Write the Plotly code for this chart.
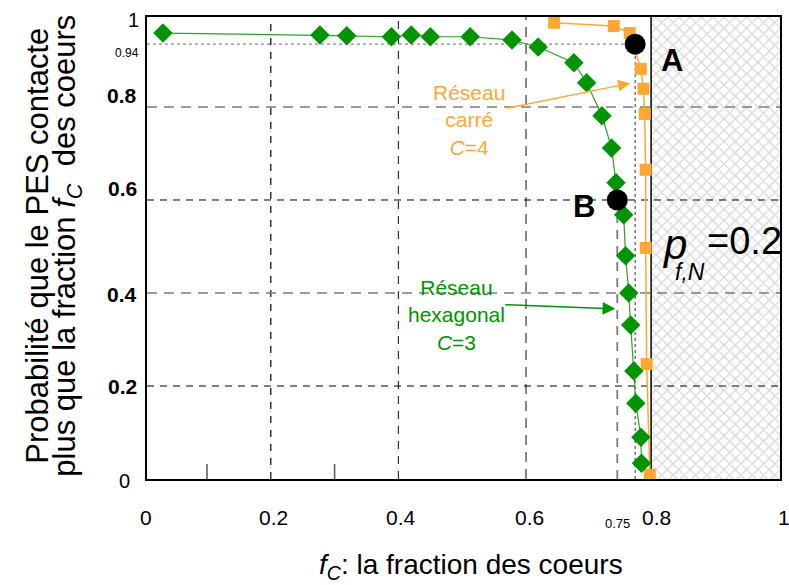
import plotly.graph_objects as go

# ---------------- data ----------------
square_x = [0.644, 0.7375, 0.7625, 0.780, 0.784, 0.786, 0.7875, 0.7875, 0.789, 0.794]
square_y = [0.981, 0.974, 0.959, 0.882, 0.839, 0.785, 0.665, 0.497, 0.247, 0.009]

hex_x = [0.031, 0.277, 0.319, 0.389, 0.420, 0.450, 0.5125, 0.578, 0.619, 0.675, 0.695,
         0.719, 0.734, 0.741, 0.753, 0.756, 0.761, 0.764, 0.769, 0.772, 0.780, 0.781]
hex_y = [0.959, 0.955, 0.953, 0.951, 0.955, 0.951, 0.951, 0.944, 0.929, 0.895, 0.852,
         0.781, 0.712, 0.637, 0.568, 0.480, 0.400, 0.331, 0.232, 0.163, 0.090, 0.034]

point_names = ["A", "B"]
point_x = [0.771, 0.743]
point_y = [0.935, 0.600]

x_tick_vals = [0, 0.2, 0.4, 0.6, 0.8, 1.0]
x_tick_text = ["0", "0.2", "0.4", "0.6", "0.8", "1"]
y_tick_vals = [1.0, 0.935, 0.8, 0.6, 0.4, 0.2, 0.0]
y_tick_text = ["1", "0.94", "0.8", "0.6", "0.4", "0.2", "0"]
x_marker_text = "0.75"

grid_x = [0.2, 0.4, 0.6]
grid_y = [0.8, 0.6, 0.4, 0.2]
minor_x = [0.1, 0.3]
hatch_start = 0.796
hatch_end = 1.0
pfn_text = "=0.2"

X_RANGE = [0.006, 0.998]
Y_RANGE = [0.0, 0.9935]

GREEN = "#009400"
GREEN_LINE = "#2aa52a"
ORANGE = "#FFA733"
GRAY = "#7a7a7a"


def px_x(v):
    return (v - X_RANGE[0]) / (X_RANGE[1] - X_RANGE[0])


def px_y(v):
    return (v - Y_RANGE[0]) / (Y_RANGE[1] - Y_RANGE[0])


fig = go.Figure()

# hatched region (p_f,N = 0.2)
fig.add_trace(go.Scatter(
    x=[hatch_start, hatch_end, hatch_end, hatch_start, hatch_start],
    y=[Y_RANGE[0], Y_RANGE[0], Y_RANGE[1], Y_RANGE[1], Y_RANGE[0]],
    fill="toself", mode="none", fillcolor="white",
    fillpattern=dict(shape="x", fgcolor="#b0b0b0", bgcolor="white", size=8, solidity=0.3),
    hoverinfo="skip", showlegend=False))

# grid lines (dashed)
v_styles = [("black", "7px,7px", 1.2), ("#333333", "8px,7px", 1.2), (GRAY, "10px,7px", 1.8)]
for gx, (c, d, w) in zip(grid_x, v_styles):
    fig.add_trace(go.Scatter(x=[gx, gx], y=Y_RANGE, mode="lines",
                             line=dict(color=c, dash=d, width=w), hoverinfo="skip", showlegend=False))
h_styles = [(GRAY, "10px,7px", 1.6), ("black", "7px,6px", 1.0), (GRAY, "10px,7px", 1.6), ("black", "7px,6px", 1.0)]
for gy, (c, d, w) in zip(grid_y, h_styles):
    fig.add_trace(go.Scatter(x=X_RANGE, y=[gy, gy], mode="lines",
                             line=dict(color=c, dash=d, width=w), hoverinfo="skip", showlegend=False))

# minor ticks at bottom
for mx in minor_x:
    fig.add_trace(go.Scatter(x=[mx, mx], y=[0, 0.032], mode="lines",
                             line=dict(color="#555555", width=1.5), hoverinfo="skip", showlegend=False))

# reference lines for A and B
fig.add_trace(go.Scatter(x=[X_RANGE[0], point_x[0]], y=[point_y[0], point_y[0]], mode="lines",
                         line=dict(color="#888888", dash="dot", width=1.2), hoverinfo="skip", showlegend=False))
fig.add_trace(go.Scatter(x=[point_x[0], point_x[0]], y=[0, point_y[0]], mode="lines",
                         line=dict(color="#333333", dash="dot", width=1), hoverinfo="skip", showlegend=False))
fig.add_trace(go.Scatter(x=[point_x[1], point_x[1]], y=[0, point_y[1]], mode="lines",
                         line=dict(color=GRAY, dash="9px,7px", width=1.8), hoverinfo="skip", showlegend=False))

# hatch boundary line
fig.add_trace(go.Scatter(x=[hatch_start, hatch_start], y=Y_RANGE, mode="lines",
                         line=dict(color="black", width=1.5), hoverinfo="skip", showlegend=False))

# series
fig.add_trace(go.Scatter(x=square_x, y=square_y, mode="lines+markers",
                         line=dict(color=ORANGE, width=1.5),
                         marker=dict(symbol="square", size=12, color=ORANGE),
                         showlegend=False))
fig.add_trace(go.Scatter(x=hex_x, y=hex_y, mode="lines+markers",
                         line=dict(color=GREEN_LINE, width=1.2),
                         marker=dict(symbol="diamond", size=15, color=GREEN),
                         showlegend=False))
fig.add_trace(go.Scatter(x=point_x, y=point_y, mode="markers",
                         marker=dict(symbol="circle", size=21, color="black"),
                         showlegend=False))

ann = []
# A / B labels
ann.append(dict(x=0.828, y=0.901, text="<b>A</b>", showarrow=False,
                font=dict(size=31, color="black")))
ann.append(dict(x=0.691, y=0.585, text="<b>B</b>", showarrow=False,
                font=dict(size=31, color="black")))

# p_f,N label
ann.append(dict(x=0.833, y=0.505, text="<i>p</i>", showarrow=False,
                font=dict(size=42, color="black")))
ann.append(dict(x=0.857, y=0.445, text="<i>f,N</i>", showarrow=False,
                font=dict(size=23, color="black")))
ann.append(dict(x=1.0, xref="paper", y=px_y(0.512), yref="paper", xanchor="right", yanchor="middle",
                xshift=4, text=pfn_text, showarrow=False,
                font=dict(size=38, color="black")))

# series labels + arrows
ann.append(dict(x=0.511, y=0.772, text="Réseau<br>carré<br><i>C</i>=4", showarrow=False,
                font=dict(size=21, color=ORANGE)))
ann.append(dict(x=0.763, y=0.851, ax=0.568, ay=0.797, axref="x", ayref="y",
                text="", showarrow=True, arrowhead=2, arrowsize=1.6, arrowwidth=1.5,
                arrowcolor=ORANGE))
ann.append(dict(x=0.491, y=0.353, text="Réseau<br>hexagonal<br><i>C</i>=3", showarrow=False,
                font=dict(size=21, color=GREEN)))
ann.append(dict(x=0.740, y=0.366, ax=0.565, ay=0.375, axref="x", ayref="y",
                text="", showarrow=True, arrowhead=2, arrowsize=1.7, arrowwidth=1.5,
                arrowcolor=GREEN))

# y tick labels (annotations)
y_label_shift = [-14, -20, -25, -25, -25, -25, -23]
y_label_vshift = [-6, -9, 11, 11, -2, -1, -2]
y_label_size = [20, 12, 21, 21, 21, 21, 20]
y_label_bold = [False, False, True, True, True, True, False]
for v, t, xs, ys, sz, b in zip(y_tick_vals, y_tick_text, y_label_shift, y_label_vshift,
                               y_label_size, y_label_bold):
    ann.append(dict(x=0, xref="paper", y=px_y(v), yref="paper", xanchor="center", yanchor="middle",
                    xshift=xs, yshift=ys, text=f"<b>{t}</b>" if b else t, showarrow=False,
                    font=dict(size=sz, color="black")))

# x tick labels (annotations)
for v, t in zip(x_tick_vals, x_tick_text):
    ann.append(dict(x=px_x(v), xref="paper", y=0, yref="paper", xanchor="center", yanchor="middle",
                    xshift=3, yshift=-38, text=t, showarrow=False,
                    font=dict(size=21, color="black")))

# 0.75 small label
ann.append(dict(x=px_x(point_x[1]), xref="paper", y=0, yref="paper", yanchor="middle",
                xshift=15, yshift=-44, text=x_marker_text, showarrow=False,
                font=dict(size=13, color="black")))

# axis titles
ann.append(dict(x=0.512, xref="paper", y=0, yref="paper", yanchor="middle", yshift=-87,
                text="<i>f</i><sub><i>C</i></sub>: la fraction des coeurs", showarrow=False,
                font=dict(size=28, color="black")))
ann.append(dict(x=0, xref="paper", y=0.505, yref="paper", xanchor="center", yanchor="middle",
                xshift=-109, textangle=-90,
                text="Probabilité que le PES contacte", showarrow=False,
                font=dict(size=31, color="black")))
ann.append(dict(x=0, xref="paper", y=0.505, yref="paper", xanchor="center", yanchor="middle",
                xshift=-80, textangle=-90,
                text="plus que la fraction <i>f</i><sub><i>C</i></sub>  des coeurs", showarrow=False,
                font=dict(size=31, color="black")))

fig.update_layout(
    width=789, height=585,
    margin=dict(l=147, r=7, t=17, b=106),
    paper_bgcolor="white", plot_bgcolor="white",
    font=dict(family="Liberation Sans, Arial, sans-serif", color="black"),
    annotations=ann,
    xaxis=dict(range=X_RANGE, showgrid=False, zeroline=False, showline=True, mirror=True,
               linecolor="black", linewidth=1.5, showticklabels=False, ticks=""),
    yaxis=dict(range=Y_RANGE, showgrid=False, zeroline=False, showline=True, mirror=True,
               linecolor="black", linewidth=1.5, showticklabels=False, ticks=""),
)

fig.write_html("out.html")
